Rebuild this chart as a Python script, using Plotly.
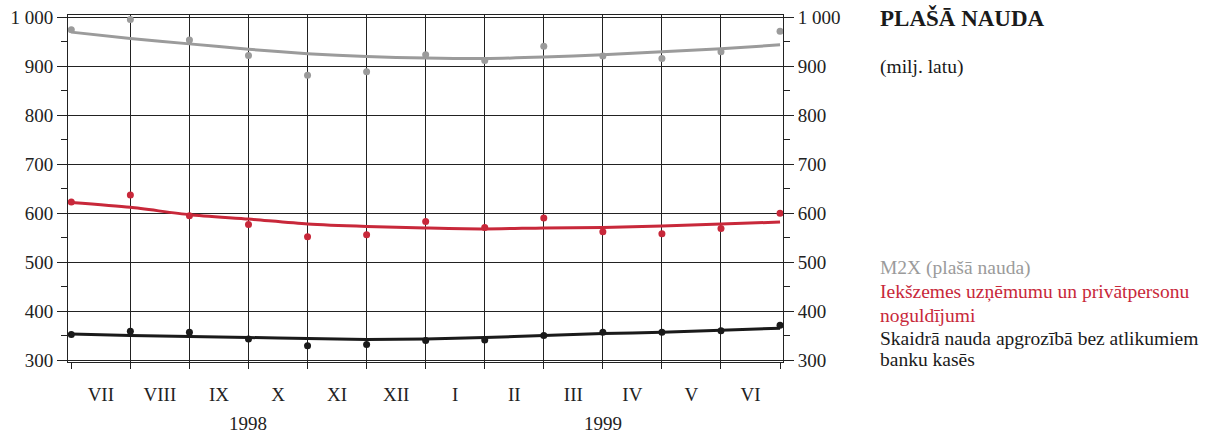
import plotly.graph_objects as go

# ---- data ----
months = ["VII", "VIII", "IX", "X", "XI", "XII", "I", "II", "III", "IV", "V", "VI"]
years = ["1998", "1999"]
idx = list(range(13))

m2x_pts = [975, 996, 954, 922, 882, 889, 924, 912, 941, 921, 916, 930, 972]
m2x_trend = [970, 957, 946, 935, 926, 920, 917, 916, 919, 924, 930, 936, 944]

dep_pts = [623, 637, 595, 577, 552, 556, 583, 571, 590, 562, 558, 569, 600]
dep_trend = [622, 612, 597, 588, 578, 573, 570, 568, 570, 571, 574, 578, 582]

cash_pts = [352, 359, 357, 343, 329, 332, 340, 341, 350, 357, 357, 360, 371]
cash_trend = [353, 350, 348, 346, 344, 342, 343, 346, 350, 354, 357, 361, 365]

series_lines = [["M2X (plašā nauda)"],
                ["Iekšzemes uzņēmumu un privātpersonu", "noguldījumi"],
                ["Skaidrā nauda apgrozībā bez atlikumiem", "banku kasēs"]]
colors = ["#9b9b9b", "#c8283a", "#1a1a1a"]

ytick_vals = [300, 400, 500, 600, 700, 800, 900, 1000]
ytick_text = ["300", "400", "500", "600", "700", "800", "900", "1 000"]

FONT = "Liberation Serif, Times New Roman, serif"
yrange = [296, 1005]
xrange_ = [-0.056, 12.05]

fig = go.Figure()

for pts, trend, c in [(m2x_pts, m2x_trend, colors[0]),
                      (dep_pts, dep_trend, colors[1]),
                      (cash_pts, cash_trend, colors[2])]:
    fig.add_trace(go.Scatter(x=idx, y=trend, mode="lines",
                             line=dict(color=c, width=3, shape="spline", smoothing=0.7),
                             showlegend=False, hoverinfo="skip", cliponaxis=False))
    fig.add_trace(go.Scatter(x=idx, y=pts, mode="markers",
                             marker=dict(color=c, size=7),
                             showlegend=False, cliponaxis=False))

# dummy traces to register the extra axes
fig.add_trace(go.Scatter(x=[None], y=[None], xaxis="x2", yaxis="y2", showlegend=False))
fig.add_trace(go.Scatter(x=[None], y=[None], xaxis="x3", showlegend=False))

axis_font = dict(family=FONT, size=19, color="#222222")

fig.update_layout(
    width=1208, height=434,
    margin=dict(l=68, r=425, t=15, b=72, autoexpand=False),
    paper_bgcolor="white", plot_bgcolor="white",
    font=dict(family=FONT, size=19, color="#222222"),
    xaxis=dict(range=xrange_, tickvals=list(range(1, 12)), showticklabels=False,
               ticks="", showgrid=True, gridcolor="#222222", gridwidth=1,
               showline=True, linecolor="#222222", linewidth=1, mirror=True,
               zeroline=False, fixedrange=True, automargin=False),
    xaxis2=dict(range=xrange_, overlaying="x", side="bottom", tickvals=idx,
                showticklabels=False, ticks="outside", ticklen=6, tickcolor="#222222",
                showgrid=False, zeroline=False, showline=False, automargin=False),
    xaxis3=dict(range=xrange_, overlaying="x", side="bottom",
                tickvals=[i + 0.5 for i in range(12)], ticktext=months,
                ticks="", ticklabelstandoff=19, tickfont=axis_font,
                showgrid=False, zeroline=False, showline=False, automargin=False),
    yaxis=dict(range=yrange, tickvals=ytick_vals, ticktext=ytick_text,
               ticks="outside", ticklen=10, tickcolor="#222222", tickfont=axis_font,
               minor=dict(tick0=350, dtick=100, ticks="outside", ticklen=6,
                          tickcolor="#222222", showgrid=False),
               showgrid=True, gridcolor="#222222", gridwidth=1,
               showline=True, linecolor="#222222", linewidth=1, mirror=True,
               zeroline=False, automargin=False),
    yaxis2=dict(range=yrange, overlaying="y", side="right", tickvals=ytick_vals,
                ticktext=ytick_text, ticks="outside", ticklen=10, tickcolor="#222222",
                tickfont=axis_font,
                minor=dict(tick0=350, dtick=100, ticks="outside", ticklen=6,
                           tickcolor="#222222", showgrid=False),
                showgrid=False, showline=False, zeroline=False, automargin=False),
)

# year labels centred under each half year
for k, yr in enumerate(years):
    fig.add_annotation(x=6 * k + 3, y=-0.178, xref="x", yref="paper", text=yr,
                       showarrow=False, xanchor="center", yanchor="middle",
                       font=axis_font)

# title and unit
fig.add_annotation(x=1.133, y=0.992, xref="paper", yref="paper",
                   text="<b>PLAŠĀ NAUDA</b>", showarrow=False,
                   xanchor="left", yanchor="middle",
                   font=dict(family=FONT, size=23, color="#1a1a1a"))
fig.add_annotation(x=1.133, y=0.85, xref="paper", yref="paper",
                   text="(milj. latu)", showarrow=False,
                   xanchor="left", yanchor="middle",
                   font=dict(family=FONT, size=19.5, color="#1a1a1a"))

# legend texts, one annotation per text line
line_y = [0.271, 0.202, 0.135, 0.069, 0.006]
k = 0
for lines, c in zip(series_lines, colors):
    for ln in lines:
        fig.add_annotation(x=1.133, y=line_y[k], xref="paper", yref="paper", text=ln,
                           showarrow=False, xanchor="left", yanchor="middle",
                           font=dict(family=FONT, size=19.5, color=c))
        k += 1

fig.write_html("out.html", config={"displayModeBar": False},
               post_script="document.body.style.margin='0';document.body.style.padding='0';")
